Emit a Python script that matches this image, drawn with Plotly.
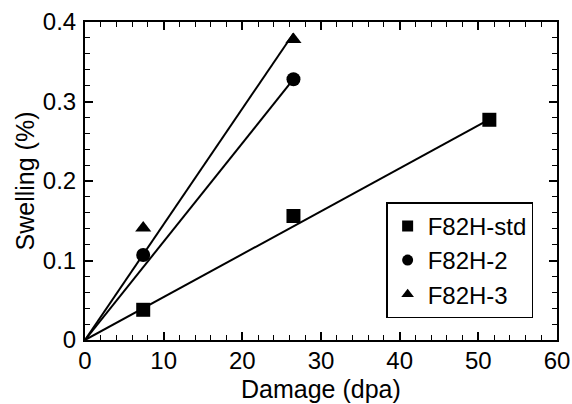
import plotly.graph_objects as go

# Data
std_x = [7.4, 26.5, 51.4]
std_y = [0.038, 0.156, 0.277]
f2_x = [7.4, 26.5]
f2_y = [0.107, 0.328]
f3_x = [7.4, 26.5]
f3_y = [0.141, 0.378]

names = ["F82H-std", "F82H-2", "F82H-3"]
symbols = ["square", "circle", "triangle-up"]
fit_slope = [0.0054, 0.01238, 0.01455]
fit_xend = [51.4, 26.5, 26.5]

x_ticks = [0, 10, 20, 30, 40, 50, 60]
y_ticks = [0, 0.1, 0.2, 0.3, 0.4]
y_ticklabels = ["0", "0.1", "0.2", "0.3", "0.4"]
x_title = "Damage (dpa)"
y_title = "Swelling (%)"

FONT = "Liberation Sans, Arial, Helvetica, sans-serif"

fig = go.Figure()

series = [(std_x, std_y), (f2_x, f2_y), (f3_x, f3_y)]
for i, (xs, ys) in enumerate(series):
    fig.add_trace(go.Scatter(
        x=[0, fit_xend[i]], y=[0, fit_slope[i] * fit_xend[i]],
        mode="lines", line=dict(color="black", width=2),
        showlegend=False, hoverinfo="skip"))
    fig.add_trace(go.Scatter(
        x=xs, y=ys, mode="markers",
        marker=dict(symbol=symbols[i], size=14, color="black"),
        showlegend=False))
    fig.add_trace(go.Scatter(
        x=[None], y=[None], mode="markers", name=names[i],
        marker=dict(symbol=symbols[i], size=11, color="black"),
        showlegend=True))

axis_common = dict(
    showline=True, linecolor="black", linewidth=2, mirror="allticks",
    ticks="inside", ticklen=8, tickwidth=1.5, tickcolor="black",
    showgrid=False, zeroline=False, automargin=False,
    tickfont=dict(family=FONT, size=24, color="black"),
)

fig.update_xaxes(
    range=[0, 60], tickvals=x_ticks,
    minor=dict(dtick=2, ticks="inside", ticklen=5, tickwidth=1.2, tickcolor="black"),
    ticklabelstandoff=-2,
    **axis_common)
fig.update_yaxes(
    range=[0, 0.4], tickvals=y_ticks, ticktext=y_ticklabels,
    minor=dict(dtick=0.02, ticks="inside", ticklen=5, tickwidth=1.2, tickcolor="black"),
    title=dict(text=y_title, font=dict(family=FONT, size=25, color="black"), standoff=1),
    ticklabelstandoff=2,
    **axis_common)

fig.add_annotation(
    text=x_title, xref="paper", yref="paper", x=0.5, y=-0.155,
    xanchor="center", yanchor="middle", showarrow=False,
    font=dict(family=FONT, size=25, color="black"))

fig.update_layout(
    width=572, height=404,
    margin=dict(l=85, r=15, t=22, b=64),
    paper_bgcolor="white", plot_bgcolor="white",
    font=dict(family=FONT, size=24, color="black"),
    legend=dict(
        x=0.638, y=0.433, xanchor="left", yanchor="top",
        bordercolor="black", borderwidth=1.5, bgcolor="white",
        font=dict(family=FONT, size=24, color="black"),
    ),
)

fig.write_html("out.html")
